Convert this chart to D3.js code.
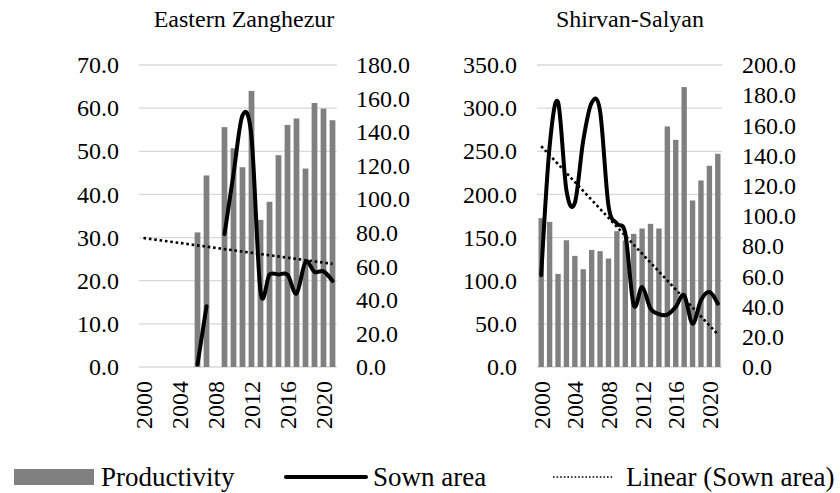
<!DOCTYPE html>
<html>
<head>
<meta charset="utf-8">
<script src="https://cdn.jsdelivr.net/npm/d3@7"></script>
<style>
  html, body { margin: 0; padding: 0; background: #fff; }
  svg { display: block; }
  text { font-family: "Liberation Serif", "Times New Roman", serif; fill: #000; }
</style>
</head>
<body>
<svg id="chart" width="840" height="493"></svg>
<script>
// ---- Data ----
const years = [2000,2001,2002,2003,2004,2005,2006,2007,2008,2009,2010,2011,2012,2013,2014,2015,2016,2017,2018,2019,2020,2021];
const yearTickLabels = [2000,2004,2008,2012,2016,2020];

// Eastern Zanghezur
const ezProductivity = [null,null,null,null,null,null,31.2,44.4,null,55.6,50.7,46.3,64.0,34.1,38.3,49.1,56.1,57.6,46.0,61.2,59.9,57.2];
const ezSownArea     = [null,null,null,null,null,null,1.5,36.2,null,79.2,115,150,137,45.1,55.1,55.1,55.0,43.8,62.6,56.7,57.0,51.3];
const ezLeftTicks  = [0,10,20,30,40,50,60,70];
const ezRightTicks = [0,20,40,60,80,100,120,140,160,180];

// Shirvan-Salyan
const ssProductivity = [172.5,168.2,107.9,146.9,128.8,113.3,135.7,134.2,125.7,157.4,146.6,154.3,160.5,165.9,160.5,278.8,263.3,324.4,193.0,216.2,233.2,247.1];
const ssSownArea     = [60.8,146,175.5,117,108.7,150,175,169.5,107,95,88.4,40.9,53,38.7,35,34.7,39.8,47.5,28.7,44.2,49.7,42];
const ssLeftTicks  = [0,50,100,150,200,250,300,350];
const ssRightTicks = [0,20,40,60,80,100,120,140,160,180,200];

const legendLabels = ["Productivity", "Sown area", "Linear (Sown area)"];

// ---- Drawing ----
const svg = d3.select("#chart");
const BAR = "#808080", GRID = "#d9d9d9";
const FONT = 24;
const LFONT = 27;

function linReg(vals) {
  const pts = vals.map((v, i) => [i, v]).filter(p => p[1] != null);
  const mx = d3.mean(pts, p => p[0]), my = d3.mean(pts, p => p[1]);
  let sxy = 0, sxx = 0;
  pts.forEach(p => { sxy += (p[0]-mx)*(p[1]-my); sxx += (p[0]-mx)*(p[0]-mx); });
  const b = sxy / sxx, a = my - b*mx;
  return i => a + b*i;
}

function panel(cfg) {
  const g = svg.append("g");
  const x = d3.scaleBand().domain(years).range([cfg.x0, cfg.x1]).paddingInner(0.36).paddingOuter(0.18);
  const step = (cfg.x1 - cfg.x0) / years.length;
  const xc = y => cfg.x0 + step * (years.indexOf(y) + 0.5);
  const yL = d3.scaleLinear().domain([0, d3.max(cfg.leftTicks)]).range([cfg.y1, cfg.y0]);
  const yR = d3.scaleLinear().domain([0, d3.max(cfg.rightTicks)]).range([cfg.y1, cfg.y0]);

  // gridlines
  g.append("g").selectAll("line").data(cfg.leftTicks).join("line")
    .attr("x1", cfg.x0).attr("x2", cfg.x1)
    .attr("y1", d => yL(d)).attr("y2", d => yL(d))
    .attr("stroke", GRID).attr("stroke-width", 1.3);

  // left axis
  const la = g.append("g").attr("transform", `translate(${cfg.leftLabelX},0)`)
    .call(d3.axisLeft(yL).tickValues(cfg.leftTicks).tickFormat(d3.format(".1f")).tickSize(0).tickPadding(0));
  la.select(".domain").remove();
  la.selectAll("text").attr("font-size", FONT).attr("fill", "#000");

  // right axis
  const ra = g.append("g").attr("transform", `translate(${cfg.rightLabelX},0)`)
    .call(d3.axisRight(yR).tickValues(cfg.rightTicks).tickFormat(d3.format(".1f")).tickSize(0).tickPadding(0));
  ra.select(".domain").remove();
  ra.selectAll("text").attr("font-size", FONT).attr("fill", "#000");

  // x axis labels (rotated)
  const xa = g.append("g").attr("transform", `translate(0,${cfg.y1 + 14})`)
    .call(d3.axisBottom(x).tickValues(yearTickLabels).tickSize(0).tickPadding(0));
  xa.select(".domain").remove();
  xa.selectAll("text")
    .attr("font-size", FONT).attr("fill", "#000")
    .attr("transform", "rotate(-90)")
    .attr("text-anchor", "end").attr("x", 0).attr("y", 0).attr("dy", "0.35em");

  // bars
  g.append("g").selectAll("rect").data(years.map((yr, i) => ({yr, v: cfg.prod[i]})).filter(d => d.v != null))
    .join("rect")
    .attr("x", d => x(d.yr)).attr("width", x.bandwidth())
    .attr("y", d => yL(d.v)).attr("height", d => yL(0) - yL(d.v))
    .attr("fill", BAR);

  // sown area smooth line
  const line = d3.line()
    .defined(d => d.v != null)
    .x(d => xc(d.yr)).y(d => yR(d.v))
    .curve(d3.curveCatmullRom.alpha(0));
  g.append("path")
    .datum(years.map((yr, i) => ({yr, v: cfg.sown[i]})))
    .attr("d", line).attr("fill", "none").attr("stroke", "#000")
    .attr("stroke-width", 4).attr("stroke-linejoin", "round").attr("stroke-linecap", "round");

  // linear trend
  const f = linReg(cfg.sown);
  const i0 = 0, i1 = years.length - 1;
  g.append("line")
    .attr("x1", xc(years[i0])).attr("y1", yR(f(i0)))
    .attr("x2", xc(years[i1])).attr("y2", yR(f(i1)))
    .attr("stroke", "#000").attr("stroke-width", 2.6)
    .attr("stroke-dasharray", "2.6 2.8");

  // title
  g.append("text").attr("x", cfg.titleX).attr("y", 27)
    .attr("text-anchor", "middle").attr("font-size", FONT).text(cfg.title);
}

panel({
  title: "Eastern Zanghezur", titleX: 244,
  x0: 139, x1: 337, y0: 65, y1: 367,
  leftLabelX: 119, rightLabelX: 356,
  leftTicks: ezLeftTicks, rightTicks: ezRightTicks,
  prod: ezProductivity, sown: ezSownArea
});
panel({
  title: "Shirvan-Salyan", titleX: 630,
  x0: 537, x1: 722, y0: 65, y1: 367,
  leftLabelX: 517, rightLabelX: 742,
  leftTicks: ssLeftTicks, rightTicks: ssRightTicks,
  prod: ssProductivity, sown: ssSownArea
});

// legend
const lg = svg.append("g");
const LY = 477;
lg.append("rect").attr("x", 14).attr("y", LY - 8).attr("width", 80).attr("height", 16).attr("fill", BAR);
lg.append("text").attr("x", 101).attr("y", LY).attr("dy", "0.32em").attr("font-size", LFONT).text(legendLabels[0]);
lg.append("line").attr("x1", 286).attr("x2", 366).attr("y1", LY).attr("y2", LY)
  .attr("stroke", "#000").attr("stroke-width", 4).attr("stroke-linecap", "round");
lg.append("text").attr("x", 373).attr("y", LY).attr("dy", "0.32em").attr("font-size", LFONT).text(legendLabels[1]);
lg.append("line").attr("x1", 553).attr("x2", 613).attr("y1", LY).attr("y2", LY)
  .attr("stroke", "#000").attr("stroke-width", 1.6).attr("stroke-dasharray", "1.6 2");
lg.append("text").attr("x", 626).attr("y", LY).attr("dy", "0.32em").attr("font-size", LFONT).text(legendLabels[2]);
</script>
</body>
</html>
